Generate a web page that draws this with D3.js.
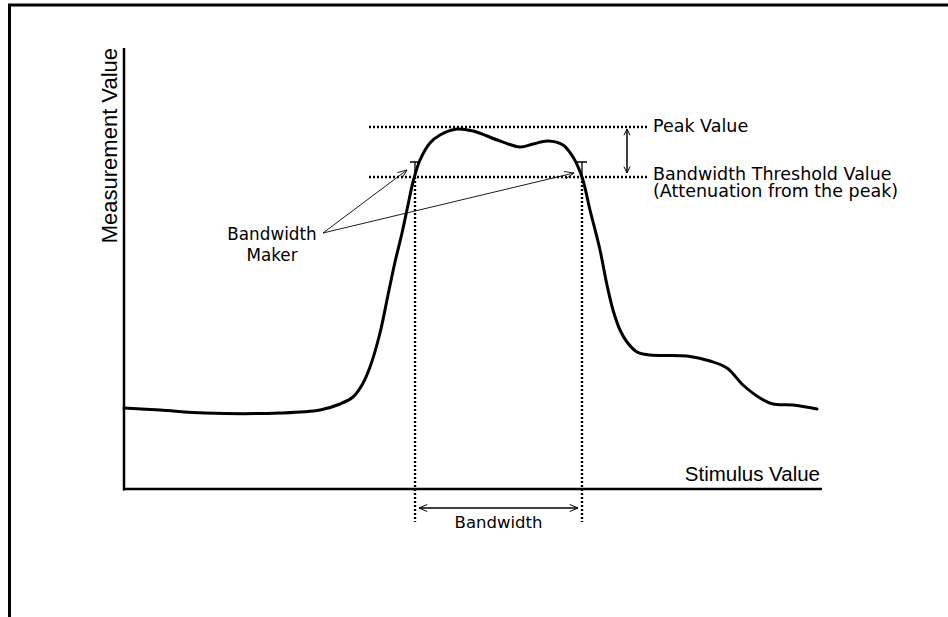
<!DOCTYPE html>
<html>
<head>
<meta charset="utf-8">
<script src="https://cdn.jsdelivr.net/npm/d3@7"></script>
<style>
  html, body { margin: 0; padding: 0; background: #fff; }
  svg { display: block; }
</style>
</head>
<body>
<svg id="chart" width="948" height="617"></svg>
<script>
// Response curve: stimulus (x) vs measurement (y), in arbitrary units
const stimulus = [0, 36, 81, 156, 196, 216, 229, 238, 246, 256, 264, 271, 278, 284, 289, 296, 306, 316, 333, 349,
  376, 396, 409, 424, 439, 449, 458, 466, 476, 483, 489, 496, 503, 513, 526, 563, 586, 603, 619, 636, 649, 669, 693];
const measurement = [81, 79, 76, 76, 79, 85, 92, 104, 122, 156, 194, 227, 256, 284, 307, 329, 346, 354, 360, 358,
  348, 342, 345, 348, 344, 332, 312, 279, 239, 204, 179, 159, 147, 137, 134, 133, 128, 121, 104, 91, 85, 84, 80];

const peakValue = 362;          // level of the curve maximum
const thresholdValue = 312;     // peak minus attenuation
const bandEdges = [291, 458];   // stimulus where the curve crosses the threshold

const axisTitles = { x: "Stimulus Value", y: "Measurement Value" };
const labels = {
  peak: "Peak Value",
  threshold: ["Bandwidth Threshold Value", "(Attenuation from the peak)"],
  marker: ["Bandwidth", "Maker"],
  bandwidth: "Bandwidth"
};

const svg = d3.select("#chart");
const x = d3.scaleLinear().domain([0, 700]).range([124, 824]);
const y = d3.scaleLinear().domain([0, 440]).range([489, 49]);

const ink = "#000";
const axisFont = "'Liberation Sans', Arial, sans-serif";
const annoFont = "'DejaVu Sans', sans-serif";

// outer frame (top and left edges)
svg.append("line").attr("x1", 8).attr("x2", 948).attr("y1", 5).attr("y2", 5)
  .attr("stroke", ink).attr("stroke-width", 3);
svg.append("line").attr("x1", 9.5).attr("x2", 9.5).attr("y1", 4).attr("y2", 617)
  .attr("stroke", ink).attr("stroke-width", 3);

// axes
svg.append("line").attr("x1", x(0)).attr("x2", x(0)).attr("y1", y(441)).attr("y2", y(-1.5))
  .attr("stroke", ink).attr("stroke-width", 2.5);
svg.append("line").attr("x1", x(0) - 1).attr("x2", x(698)).attr("y1", y(0)).attr("y2", y(0))
  .attr("stroke", ink).attr("stroke-width", 2.5);

svg.append("text").attr("x", x(696)).attr("y", y(8))
  .attr("text-anchor", "end").attr("font-family", axisFont)
  .attr("font-size", 20.5).text(axisTitles.x);
svg.append("text")
  .attr("transform", `translate(${x(0) - 7},${y(441)}) rotate(-90)`)
  .attr("text-anchor", "end").attr("font-family", axisFont)
  .attr("font-size", 22).text(axisTitles.y);

// dotted reference lines
const dotted = (x1, y1, x2, y2) => svg.append("line")
  .attr("x1", x1).attr("y1", y1).attr("x2", x2).attr("y2", y2)
  .attr("stroke", ink).attr("stroke-width", 2.4).attr("stroke-dasharray", "2,2");

dotted(x(245), y(peakValue), x(524), y(peakValue));
dotted(x(245), y(thresholdValue), x(524), y(thresholdValue));
bandEdges.forEach(b => dotted(x(b), y(thresholdValue), x(b), y(-33)));

// threshold markers ("T" glyphs on the crossings)
bandEdges.forEach(b => {
  svg.append("path")
    .attr("d", `M${x(b) - 5},${y(thresholdValue + 15)}H${x(b) + 5}M${x(b)},${y(thresholdValue + 15)}V${y(thresholdValue)}`)
    .attr("fill", "none").attr("stroke", ink).attr("stroke-width", 1.3);
});

// measured curve
const line = d3.line().x((d, i) => x(stimulus[i])).y(d => y(d)).curve(d3.curveCatmullRom.alpha(0.5));
svg.append("path").datum(measurement).attr("d", line)
  .attr("fill", "none").attr("stroke", ink).attr("stroke-width", 3)
  .attr("stroke-linejoin", "round").attr("stroke-linecap", "round");

// open arrowhead helper
function arrow(x1, y1, x2, y2, size = 9, spread = 0.42, w = 1.2) {
  svg.append("line").attr("x1", x1).attr("y1", y1).attr("x2", x2).attr("y2", y2)
    .attr("stroke", ink).attr("stroke-width", w);
  const a = Math.atan2(y2 - y1, x2 - x1);
  const p = s => [x2 - size * Math.cos(a + s), y2 - size * Math.sin(a + s)];
  const [l, r] = [p(spread), p(-spread)];
  svg.append("path").attr("d", `M${l[0]},${l[1]}L${x2},${y2}L${r[0]},${r[1]}`)
    .attr("fill", "none").attr("stroke", ink).attr("stroke-width", w);
}

// attenuation span between peak and threshold
const ax = x(503);
arrow(ax, y(thresholdValue) - 4, ax, y(peakValue) + 2, 7, 0.45, 1);
arrow(ax, y(peakValue) + 2, ax, y(thresholdValue) - 4, 7, 0.45, 1);

// bandwidth span
const by = y(-19);
arrow(x(bandEdges[1]) - 4, by, x(bandEdges[0]) + 4, by, 9, 0.4, 1);
arrow(x(bandEdges[0]) + 4, by, x(bandEdges[1]) - 4, by, 9, 0.4, 1);

// pointers from the marker caption to each crossing
const ox = 323, oy = 233;
arrow(ox, oy, x(bandEdges[0]) - 8, y(thresholdValue) - 7, 10, 0.38, 0.9);
arrow(ox, oy, x(bandEdges[1]) - 8, y(thresholdValue) - 4, 10, 0.38, 0.9);

// annotation text
const txt = (tx, ty, lines, size, anchor = "start", lead = 0) => {
  const t = svg.append("text")
    .attr("x", tx).attr("y", ty).attr("text-anchor", anchor)
    .attr("font-family", annoFont).attr("font-size", size).attr("fill", ink);
  [].concat(lines).forEach((s, i) => t.append("tspan")
    .attr("x", tx).attr("dy", i ? lead : 0).text(s));
  return t;
};

txt(653, 132, labels.peak, 17.5);
txt(653, 180, labels.threshold, 17.5, "start", 16.7);
txt(272, 240, labels.marker, 16.8, "middle", 20.7);
txt((x(bandEdges[0]) + x(bandEdges[1])) / 2, 528, labels.bandwidth, 16.5, "middle");
</script>
</body>
</html>
